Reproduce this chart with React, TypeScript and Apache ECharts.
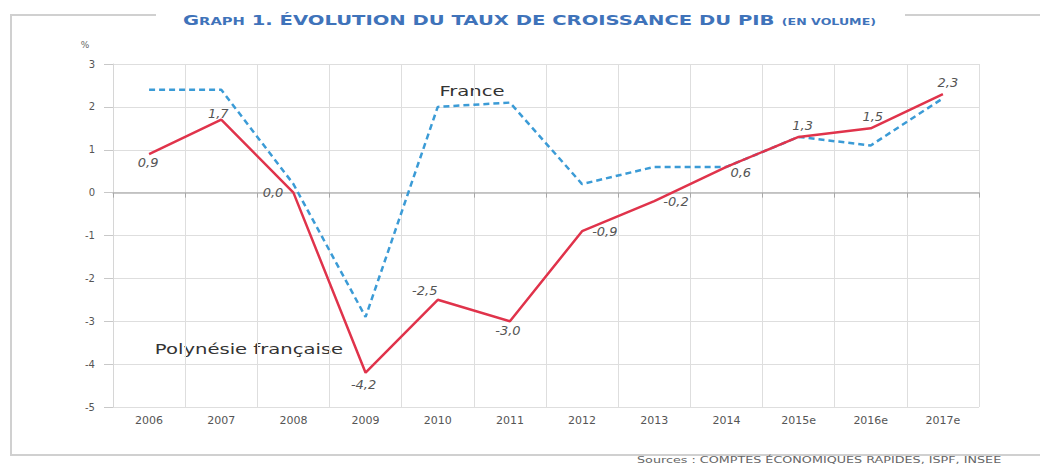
import React, { useEffect, useRef } from "react";
import * as echarts from "echarts";

const years = ["2006", "2007", "2008", "2009", "2010", "2011", "2012", "2013", "2014", "2015e", "2016e", "2017e"];
const polynesie = [0.9, 1.7, 0.0, -4.2, -2.5, -3.0, -0.9, -0.2, 0.6, 1.3, 1.5, 2.3];
const france = [2.4, 2.4, 0.2, -2.9, 2.0, 2.1, 0.2, 0.6, 0.6, 1.3, 1.1, 2.2];
const yMin = -5;
const yMax = 3;

const titleMain = " 1. ÉVOLUTION DU TAUX DE CROISSANCE DU PIB ";
const titleSub = "(EN VOLUME)";
const sourceText = "Sources : COMPTES ÉCONOMIQUES RAPIDES, ISPF, INSEE";

// label placement for each Polynésie point (style only)
const labelPlacement: { position: string; distance?: number; offset?: number[] }[] = [
  { position: "bottom", offset: [-1, -3] },
  { position: "top", offset: [-3, 5] },
  { position: "left", distance: 10 },
  { position: "bottom", offset: [-2, 0] },
  { position: "top", offset: [-13, 2] },
  { position: "bottom", offset: [-2, -2] },
  { position: "right", distance: 10 },
  { position: "right", distance: 9 },
  { position: "right", distance: 4, offset: [0, 6] },
  { position: "top", offset: [4, 0] },
  { position: "top", offset: [2, 0] },
  { position: "top", offset: [5, 0] },
];

const FONT = "DejaVu Sans";

export default function App() {
  const ref = useRef<HTMLDivElement>(null);
  useEffect(() => {
    if (!ref.current) return;
    const chart = echarts.init(ref.current, undefined, { renderer: "svg" });
    const fmt = (v: number) => v.toFixed(1).replace(".", ",");
    chart.setOption({
      animation: false,
      backgroundColor: "#ffffff",
      textStyle: { fontFamily: FONT },
      grid: { left: 113, right: 61, top: 64, bottom: 59, containLabel: false },
      xAxis: [
        {
          type: "category",
          data: years,
          position: "bottom",
          boundaryGap: true,
          axisLine: { show: true, onZero: true, lineStyle: { color: "#b8b8b8", width: 1.5 } },
          axisTick: { show: true, length: 5, lineStyle: { color: "#a8a8a8" } },
          axisLabel: { show: false },
          splitLine: { show: true, lineStyle: { color: "#dedede", width: 1 } },
        },
        {
          type: "category",
          data: years,
          position: "bottom",
          boundaryGap: true,
          axisLine: { show: false, onZero: false },
          axisTick: { show: false },
          axisLabel: { show: true, color: "#555", fontSize: 11, fontFamily: FONT, margin: 8 },
          splitLine: { show: false },
        },
      ],
      yAxis: {
        type: "value",
        min: yMin,
        max: yMax,
        interval: 1,
        axisLine: { show: true, lineStyle: { color: "#d6d6d6" } },
        axisTick: { show: true, length: 9, lineStyle: { color: "#c8c8c8" } },
        axisLabel: { color: "#555", fontSize: 10, fontFamily: FONT, margin: 18 },
        splitLine: { show: true, lineStyle: { color: "#dedede", width: 1 } },
      },
      series: [
        {
          name: "France",
          type: "line",
          xAxisIndex: 0,
          data: france,
          symbol: "none",
          lineStyle: { color: "#3b9bd6", width: 2.5, type: [6, 4] },
          z: 2,
        },
        {
          name: "Polynésie française",
          type: "line",
          xAxisIndex: 0,
          data: polynesie.map((v, i) => ({
            value: v,
            label: {
              show: true,
              position: labelPlacement[i].position,
              distance: labelPlacement[i].distance ?? 5,
              offset: labelPlacement[i].offset ?? [0, 0],
            },
          })),
          symbol: "circle",
          symbolSize: 0.1,
          showSymbol: true,
          itemStyle: { color: "#e0334b", opacity: 0 },
          label: {
            show: true,
            formatter: (p: any) => fmt(p.value),
            color: "#555",
            fontSize: 13,
            fontStyle: "italic",
            fontFamily: FONT,
            opacity: 1,
          },
          lineStyle: { color: "#e0334b", width: 2.5 },
          z: 3,
        },
      ],
      graphic: [
        { type: "line", shape: { x1: 11, y1: 15, x2: 11, y2: 455 }, style: { stroke: "#d0d0d0", lineWidth: 2 } },
        { type: "line", shape: { x1: 10, y1: 15, x2: 156, y2: 15 }, style: { stroke: "#d0d0d0", lineWidth: 2 } },
        { type: "line", shape: { x1: 905, y1: 15, x2: 1040, y2: 15 }, style: { stroke: "#d0d0d0", lineWidth: 2 } },
        { type: "line", shape: { x1: 10, y1: 455, x2: 1040, y2: 455 }, style: { stroke: "#d0d0d0", lineWidth: 2 } },
        {
          type: "group",
          x: 183,
          y: 27,
          scaleX: 1.4,
          children: [
            {
              type: "text",
              x: 0,
              y: 0,
              style: {
                text: "{a|G}{b|RAPH}{a|" + titleMain + "}{c|" + titleSub + "}",
                verticalAlign: "bottom",
                rich: {
                  a: { fontSize: 14, fontWeight: "bold", fill: "#3f73ba", fontFamily: FONT, verticalAlign: "bottom", lineHeight: 16 },
                  b: { fontSize: 10.5, fontWeight: "bold", fill: "#3f73ba", fontFamily: FONT, verticalAlign: "bottom", lineHeight: 14.5 },
                  c: { fontSize: 9, fontWeight: "bold", fill: "#3f73ba", fontFamily: FONT, verticalAlign: "bottom", lineHeight: 13.5 },
                },
              },
            },
          ],
        },
        {
          type: "text",
          x: 85,
          y: 45,
          style: { text: "%", fontSize: 9, fill: "#666", fontFamily: FONT, align: "center", verticalAlign: "middle" },
        },
        {
          type: "group",
          x: 472,
          y: 91,
          scaleX: 1.4,
          children: [
            {
              type: "text",
              style: { text: "France", fontSize: 14, fill: "#333", fontFamily: FONT, align: "center", verticalAlign: "middle" },
            },
          ],
        },
        {
          type: "group",
          x: 249,
          y: 349,
          scaleX: 1.4,
          children: [
            {
              type: "text",
              style: { text: "Polynésie française", fontSize: 14, fill: "#333", fontFamily: FONT, align: "center", verticalAlign: "middle" },
            },
          ],
        },
        {
          type: "group",
          x: 637,
          y: 460,
          scaleX: 1.5,
          children: [
            {
              type: "text",
              style: { text: sourceText, fontSize: 8.5, fill: "#666", fontFamily: FONT, align: "left", verticalAlign: "middle" },
            },
          ],
        },
      ],
    });
    return () => chart.dispose();
  }, []);
  return (
    <div
      ref={ref}
      style={{ position: "fixed", left: 0, top: 0, width: 1040, height: 466, background: "#fff" }}
    />
  );
}
